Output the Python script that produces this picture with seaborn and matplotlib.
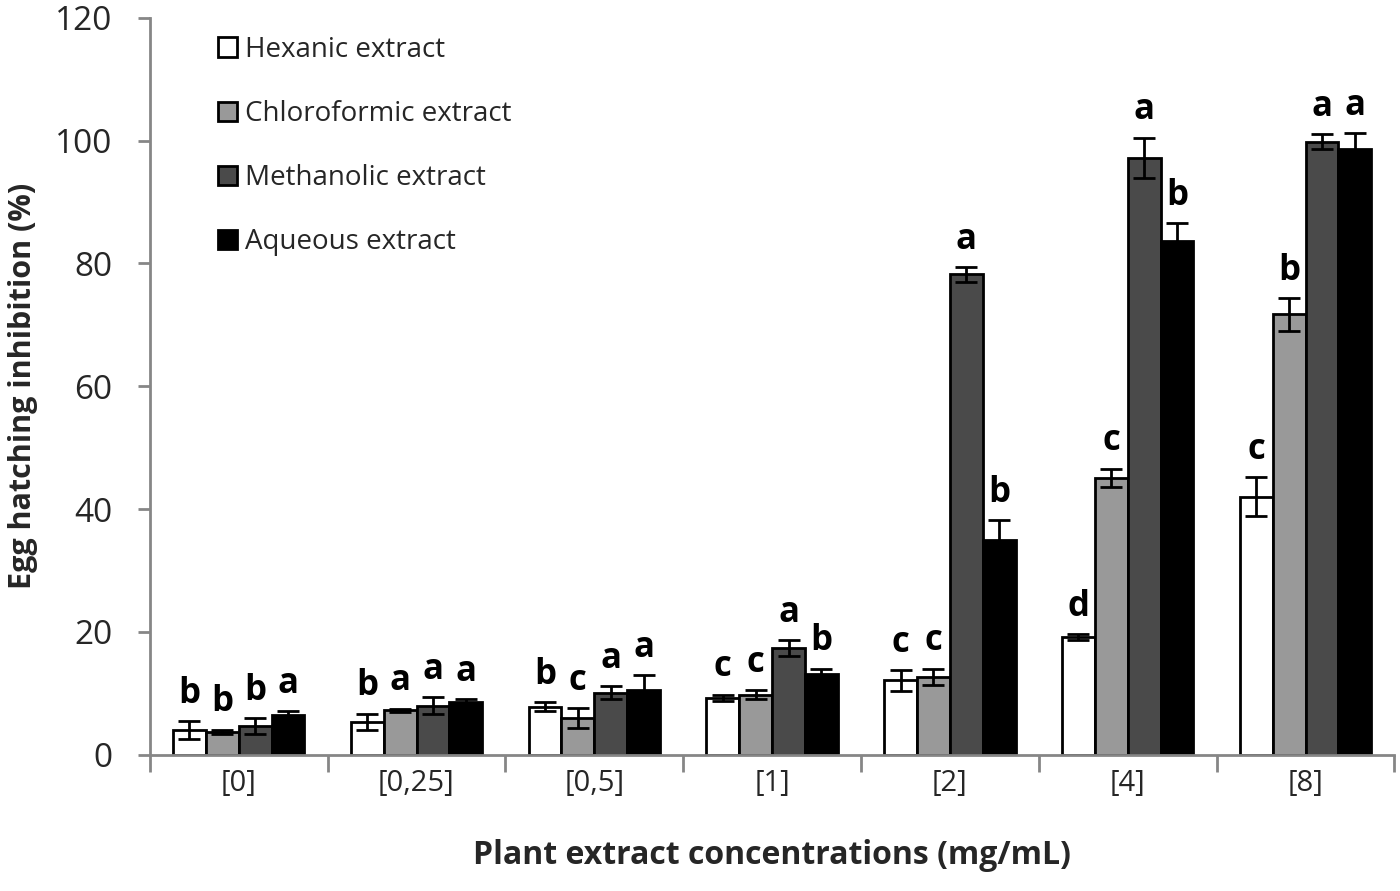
import pandas as pd
import seaborn as sns
import matplotlib.pyplot as plt
from matplotlib.ticker import MultipleLocator, FixedLocator

# data
concentrations = ['[0]', '[0,25]', '[0,5]', '[1]', '[2]', '[4]', '[8]']
extracts = ['Hexanic extract', 'Chloroformic extract', 'Methanolic extract', 'Aqueous extract']

hexanic = [4.0, 5.4, 7.8, 9.3, 12.1, 19.1, 42.0]
chloroformic = [3.7, 7.2, 6.0, 9.8, 12.7, 45.1, 71.7]
methanolic = [4.7, 8.0, 10.1, 17.4, 78.2, 97.2, 99.8]
aqueous = [6.5, 8.6, 10.6, 13.2, 34.9, 83.7, 98.7]

hexanic_sd = [1.5, 1.3, 0.7, 0.5, 1.7, 0.5, 3.2]
chloroformic_sd = [0.4, 0.3, 1.6, 0.7, 1.3, 1.5, 2.7]
methanolic_sd = [1.3, 1.4, 1.1, 1.3, 1.2, 3.3, 1.2]
aqueous_sd = [0.6, 0.4, 2.4, 0.8, 3.3, 2.9, 2.5]

hexanic_lbl = ['b', 'b', 'b', 'c', 'c', 'd', 'c']
chloroformic_lbl = ['b', 'a', 'c', 'c', 'c', 'c', 'b']
methanolic_lbl = ['b', 'a', 'a', 'a', 'a', 'a', 'a']
aqueous_lbl = ['a', 'a', 'a', 'b', 'b', 'b', 'a']

colors = ['#ffffff', '#999999', '#4a4a4a', '#000000']

means = [hexanic, chloroformic, methanolic, aqueous]
sds = [hexanic_sd, chloroformic_sd, methanolic_sd, aqueous_sd]
lbls = [hexanic_lbl, chloroformic_lbl, methanolic_lbl, aqueous_lbl]

rows = []
for e, m, s, l in zip(extracts, means, sds, lbls):
    for c, mv, sv, lv in zip(concentrations, m, s, l):
        rows.append({'conc': c, 'extract': e, 'value': mv, 'sd': sv, 'letter': lv})
df = pd.DataFrame(rows)

sns.set_theme(style="white")
plt.rcParams['font.family'] = ['Open Sans', 'DejaVu Sans']

fig = plt.figure(figsize=(14, 8.91), dpi=100)
ax = fig.add_axes([0.107, 0.153, 0.889, 0.827])

sns.barplot(data=df, x='conc', y='value', hue='extract', order=concentrations,
            hue_order=extracts, palette=colors, errorbar=None, width=0.74,
            edgecolor='black', linewidth=2, saturation=1, ax=ax, zorder=2)

# error bars + letters, using bar positions from seaborn
for i, e in enumerate(extracts):
    cont = ax.containers[i]
    sub = df[df['extract'] == e].set_index('conc').loc[concentrations]
    xs = [p.get_x() + p.get_width() / 2 for p in cont.patches]
    ax.errorbar(xs, sub['value'], yerr=sub['sd'], fmt='none', ecolor='black',
                elinewidth=2, capsize=8, capthick=2, zorder=3)
    for x, v, s, l in zip(xs, sub['value'], sub['sd'], sub['letter']):
        ax.text(x, v + s + 1.5, l, ha='center', va='bottom', fontsize=25,
                fontweight='bold', color='black')

ax.set_ylim(0, 120)
ax.set_xlim(-0.5, len(concentrations) - 0.5)
ax.yaxis.set_major_locator(MultipleLocator(20))
ax.tick_params(axis='y', which='major', left=True, length=9, width=2,
               color='#868686', labelsize=24, pad=18)
ax.tick_params(axis='x', which='major', bottom=False, labelsize=21, pad=4)
ax.xaxis.set_minor_locator(FixedLocator([k + 0.5 for k in range(-1, len(concentrations))]))
ax.tick_params(axis='x', which='minor', bottom=True, length=12, width=2, color='#868686')

for side in ['top', 'right']:
    ax.spines[side].set_visible(False)
for side in ['left', 'bottom']:
    ax.spines[side].set_color('#868686')
    ax.spines[side].set_linewidth(2)

ax.set_xlabel('Plant extract concentrations (mg/mL)', fontsize=23, fontweight='bold')
ax.set_ylabel('Egg hatching inhibition (%)', fontsize=22, fontweight='bold')
ax.xaxis.set_label_coords(0.5, -0.137)
ax.yaxis.set_label_coords(-0.102, 0.5)
ax.xaxis.label.set_va('center')
ax.yaxis.label.set_va('center')

leg = ax.legend(loc='upper left', bbox_to_anchor=(0.04, 1.0), frameon=False, fontsize=20,
                labelspacing=1.3, handlelength=0.7, handleheight=0.7, handletextpad=0.3,
                borderpad=0.15)
for h in leg.legend_handles:
    h.set_linewidth(2)
    h.set_edgecolor('black')

fig.savefig('out.png', dpi=100)
